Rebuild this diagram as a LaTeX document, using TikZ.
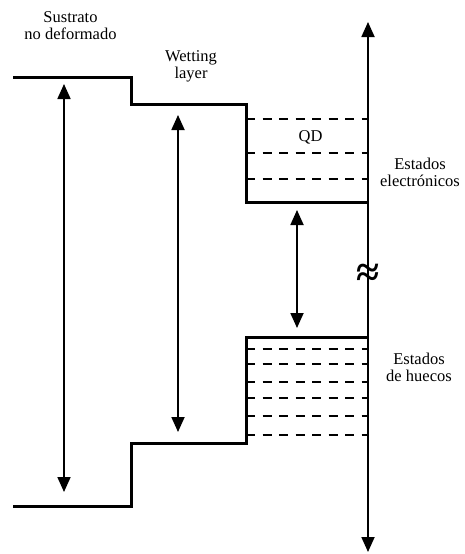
\documentclass[tikz,border=0pt]{standalone}
\usepackage{fontspec}
\setmainfont{Liberation Serif}
\usetikzlibrary{arrows.meta}

\begin{document}
\begin{tikzpicture}[
    x=1pt, y=-1pt,
    band/.style={line width=3pt, line join=miter},
    level/.style={line width=1.1pt, dash pattern=on 9pt off 7.5pt},
    arr/.style={{Triangle[length=15pt,width=13pt]}-{Triangle[length=15pt,width=13pt]}, line width=1.8pt},
    lbl/.style={align=center, anchor=base, inner sep=0pt, font=\fontsize{16.5}{17}\selectfont}
]
\useasboundingbox (0,0) rectangle (464,554);
% Energy axis
\coordinate (ax1) at (368,22);
\coordinate (ax2) at (368,552);
\draw[arr] (ax1) -- (ax2);
\node[inner sep=0pt] (brk) at (368,275) {\fontsize{42}{42}\selectfont\bfseries ≈};
% Conduction band profile
\draw[band] (13,77) -- (131,77) -- (131,104) -- (246,104) -- (246,202) -- (368,202);
% Valence band profile
\draw[band] (13,506) -- (131,506) -- (131,443) -- (246,443) -- (246,337) -- (368,337);
% Confined levels
\foreach \y in {119,153,179}
    \draw[level] (246,\y) -- (368,\y);
\foreach \y in {349,364,382,398,416,435}
    \draw[level] (246,\y) -- (368,\y);
% Gap arrows
\coordinate (g1a) at (64,84);   \coordinate (g1b) at (64,492);
\coordinate (g2a) at (178,115); \coordinate (g2b) at (178,432);
\coordinate (g3a) at (297,210); \coordinate (g3b) at (297,328);
\draw[arr] (g1a) -- (g1b);
\draw[arr] (g2a) -- (g2b);
\draw[arr] (g3a) -- (g3b);
% Labels
\node[lbl] (sust) at (70.5,39.3) {Sustrato\\no deformado};
\node[lbl] (wet) at (191,78) {Wetting\\layer};
\node[lbl] (qd) at (310.5,141) {QD};
\node[lbl] (elec) at (420,186) {Estados\\electrónicos};
\node[lbl] (hole) at (419,381) {Estados\\de huecos};
\end{tikzpicture}
\end{document}
